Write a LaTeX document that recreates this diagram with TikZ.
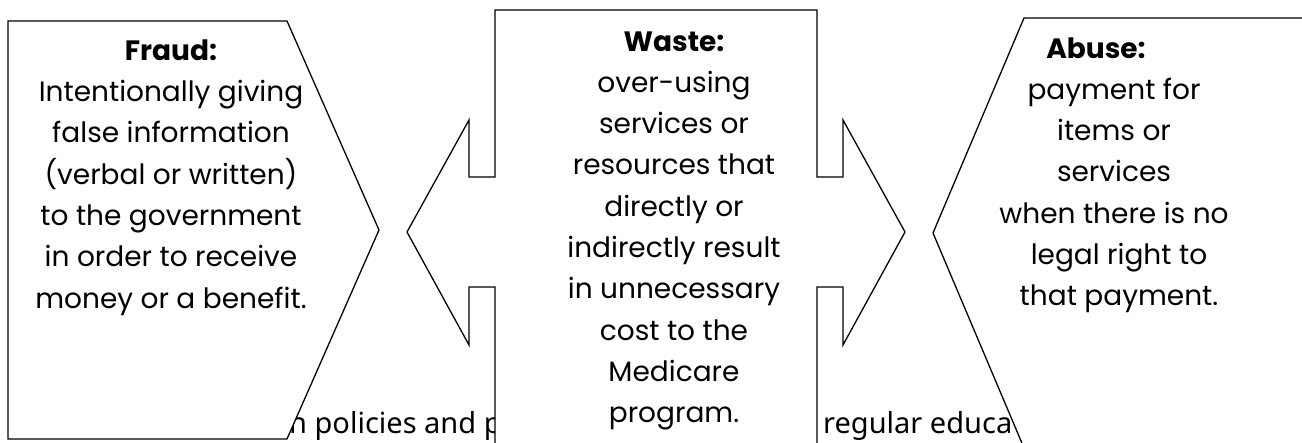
\documentclass[tikz,border=0pt]{standalone}
\usepackage{fontspec}
\newfontfamily\gothic{Poppins}
\newfontfamily\notosans{Noto Sans}
\begin{document}
\begin{tikzpicture}[x=1pt,y=-1pt,
  outline/.style={draw=black, fill=white, line width=1.3pt, line join=miter},
  bodytext/.style={font=\gothic\fontsize{28}{41.3}\selectfont, inner sep=0pt, anchor=base, text=black},
  backtext/.style={font=\notosans\fontsize{29}{34}\selectfont, inner sep=0pt, anchor=base west, text=black}]
\useasboundingbox (0,0) rectangle (1302,443);
\clip (0,0) rectangle (1302,443);
% background text, partly hidden by the shapes
\node[backtext] (bg1) at (289,434) {n policies and p};
\node[backtext] (bg2) at (823,434) {regular educa};
% Fraud pentagon
\draw[outline] (8,21) -- (287,21) -- (379,230) -- (287,439) -- (8,439) -- cycle;
% Waste double arrow
\draw[outline] (495,10) -- (817,10) -- (817,177) -- (843,177) -- (843,120) -- (905,232)
  -- (843,345) -- (843,287) -- (817,287) -- (817,454) -- (495,454) -- (495,287)
  -- (469,287) -- (469,345) -- (407,232) -- (469,120) -- (469,177) -- (495,177) -- cycle;
% Abuse pentagon
\draw[outline] (1310,18) -- (1024,18) -- (933,233) -- (1024,448) -- (1310,448);
% texts
\node[bodytext] (fraud) at (171,61) {\begin{tabular}[t]{@{}c@{}}\textbf{Fraud:}\\[-0.6pt]
  Intentionally giving\\ false information\\ (verbal or written)\\ to the government\\
  in order to receive\\ money or a benefit.\end{tabular}};
\node[bodytext] (waste) at (674,52) {\begin{tabular}[t]{@{}c@{}}\textbf{Waste:}\\[-1pt]
  over-using\\ services or\\ resources that\\ directly or\\ indirectly result\\
  in unnecessary\\ cost to the\\ Medicare\\ program.\end{tabular}};
\node[bodytext] (abuse) at (1114,59) {\begin{tabular}[t]{@{}c@{}}\textbf{Abuse:}\hspace*{36pt}\\[-1pt]
  payment for\\ items or\\ services\\ when there is no\\ \hspace*{10pt}legal right to\\
  \hspace*{10pt}that payment.\end{tabular}};
\end{tikzpicture}
\end{document}
